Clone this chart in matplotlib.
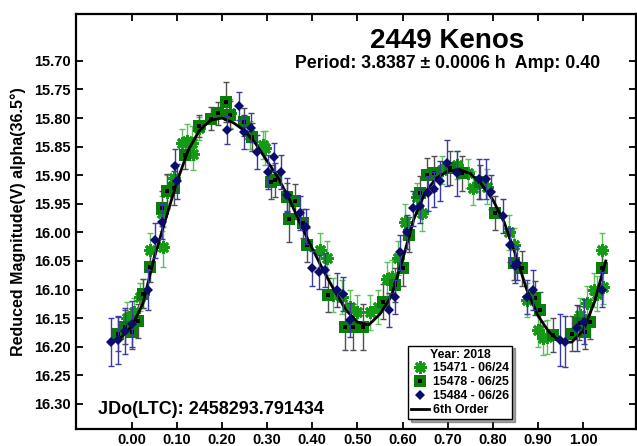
import matplotlib
matplotlib.use("Agg")
import matplotlib.pyplot as plt
from matplotlib.lines import Line2D

plt.rcParams['font.family'] = ['Liberation Sans', 'DejaVu Sans']
plt.rcParams['font.weight'] = 'bold'

# 15471 - 06/24 (green asterisks)
ph1 = [-0.010, 0.005, 0.019, 0.026, 0.041, 0.069, 0.067, 0.078, 0.093, 0.111,
       0.122, 0.133, 0.137, 0.150, 0.218, 0.262, 0.292, 0.296, 0.418, 0.432,
       0.447, 0.466, 0.484, 0.499, 0.528, 0.545, 0.565, 0.576, 0.591, 0.606,
       0.632, 0.643, 0.688, 0.720, 0.746, 0.757, 0.787, 0.835, 0.846, 0.875,
       0.901, 0.912, 0.920, 0.993, 1.008, 1.023, 1.030, 1.041, 1.045]
mag1 = [16.150, 16.140, 16.113, 16.107, 16.031, 16.026, 15.967, 15.929, 15.905, 15.844,
        15.841, 15.844, 15.863, 15.818, 15.792, 15.830, 15.847, 15.852, 16.031, 16.045,
        16.110, 16.113, 16.130, 16.140, 16.140, 16.130, 16.081, 16.078, 16.045, 15.981,
        15.938, 15.967, 15.891, 15.882, 15.897, 15.923, 15.920, 16.000, 16.022, 16.118,
        16.171, 16.185, 16.183, 16.145, 16.124, 16.101, 16.107, 16.031, 16.095]
err1 = [0.028, 0.025, 0.025, 0.025, 0.030, 0.035, 0.030, 0.030, 0.025, 0.025,
        0.030, 0.030, 0.028, 0.020, 0.025, 0.025, 0.025, 0.030, 0.030, 0.030,
        0.030, 0.030, 0.030, 0.030, 0.030, 0.030, 0.030, 0.030, 0.030, 0.030,
        0.025, 0.030, 0.025, 0.025, 0.025, 0.030, 0.030, 0.030, 0.030, 0.030,
        0.030, 0.030, 0.030, 0.030, 0.030, 0.030, 0.030, 0.030, 0.030]

# 15478 - 06/25 (green squares)
ph2 = [-0.029, -0.014, 0.000, 0.015, 0.026, 0.041, 0.067, 0.078, 0.093, 0.118,
       0.150, 0.176, 0.191, 0.209, 0.217, 0.248, 0.266, 0.308, 0.318, 0.345,
       0.348, 0.362, 0.380, 0.388, 0.436, 0.473, 0.491, 0.513, 0.556, 0.584,
       0.601, 0.614, 0.639, 0.654, 0.669, 0.705, 0.731, 0.772, 0.805, 0.846,
       0.864, 0.894, 0.905, 0.934, 0.975, 0.990, 1.004, 1.016, 1.041]
mag2 = [16.178, 16.165, 16.174, 16.155, 16.107, 16.061, 15.958, 15.928, 15.923, 15.865,
        15.814, 15.801, 15.792, 15.772, 15.795, 15.807, 15.833, 15.912, 15.909, 15.938,
        15.976, 15.946, 15.984, 16.022, 16.110, 16.165, 16.165, 16.165, 16.121, 16.092,
        16.063, 16.004, 15.932, 15.900, 15.897, 15.888, 15.897, 15.912, 15.966, 16.054,
        16.063, 16.115, 16.135, 16.180, 16.177, 16.159, 16.174, 16.156, 16.063]
err2 = [0.030, 0.030, 0.030, 0.030, 0.025, 0.025, 0.030, 0.030, 0.030, 0.025,
        0.020, 0.020, 0.020, 0.035, 0.025, 0.025, 0.025, 0.030, 0.030, 0.025,
        0.040, 0.030, 0.025, 0.030, 0.030, 0.040, 0.040, 0.040, 0.030, 0.030,
        0.030, 0.030, 0.030, 0.030, 0.030, 0.030, 0.030, 0.030, 0.030, 0.030,
        0.030, 0.030, 0.030, 0.030, 0.030, 0.030, 0.030, 0.030, 0.030]

# 15484 - 06/26 (navy diamonds)
ph3 = [-0.045, -0.029, -0.014, 0.000, 0.037, 0.052, 0.067, 0.096, 0.100, 0.211,
       0.237, 0.250, 0.264, 0.278, 0.303, 0.316, 0.331, 0.345, 0.372, 0.387,
       0.399, 0.414, 0.429, 0.454, 0.468, 0.484, 0.570, 0.584, 0.595, 0.611,
       0.624, 0.639, 0.657, 0.670, 0.683, 0.698, 0.720, 0.770, 0.784, 0.796,
       0.823, 0.838, 0.849, 0.853, 0.875, 0.888, 0.949, 0.960, 0.986, 1.002, 1.041]
mag3 = [16.192, 16.189, 16.172, 16.160, 16.101, 16.014, 15.981, 15.884, 15.911, 15.821,
        15.779, 15.824, 15.817, 15.859, 15.894, 15.868, 15.894, 15.935, 15.966, 15.990,
        16.063, 16.069, 16.066, 16.101, 16.108, 16.153, 16.136, 16.113, 16.035, 15.999,
        15.958, 15.954, 15.932, 15.925, 15.910, 15.879, 15.897, 15.907, 15.907, 15.929,
        15.971, 16.022, 16.059, 16.054, 16.113, 16.101, 16.188, 16.191, 16.167, 16.156, 16.100]
err3 = [0.042, 0.042, 0.040, 0.040, 0.035, 0.030, 0.030, 0.030, 0.030, 0.025,
        0.025, 0.030, 0.025, 0.030, 0.030, 0.025, 0.030, 0.030, 0.030, 0.030,
        0.030, 0.030, 0.030, 0.030, 0.030, 0.030, 0.030, 0.030, 0.030, 0.030,
        0.030, 0.030, 0.030, 0.030, 0.035, 0.040, 0.040, 0.035, 0.035, 0.030,
        0.030, 0.030, 0.030, 0.030, 0.030, 0.035, 0.045, 0.045, 0.040, 0.040, 0.030]

# 6th order fit
fit_ph = [-0.050, -0.025, 0.000, 0.025, 0.050, 0.075, 0.100, 0.125, 0.150, 0.175,
          0.200, 0.225, 0.250, 0.275, 0.300, 0.325, 0.350, 0.375, 0.400, 0.425,
          0.450, 0.475, 0.500, 0.525, 0.550, 0.575, 0.600, 0.625, 0.650, 0.675,
          0.700, 0.725, 0.750, 0.775, 0.800, 0.825, 0.850, 0.875, 0.900, 0.925,
          0.950, 0.975, 1.000, 1.025, 1.050]
fit_mag = [16.193, 16.185, 16.165, 16.125, 16.045, 15.978, 15.913, 15.857, 15.822, 15.804,
           15.800, 15.808, 15.822, 15.845, 15.875, 15.905, 15.943, 15.987, 16.028, 16.067,
           16.103, 16.136, 16.157, 16.162, 16.143, 16.112, 16.048, 15.977, 15.930, 15.905,
           15.893, 15.890, 15.897, 15.916, 15.943, 15.982, 16.038, 16.100, 16.146, 16.175,
           16.192, 16.192, 16.172, 16.122, 16.050]

xticks = [0.0, 0.1, 0.2, 0.3, 0.4, 0.5, 0.6, 0.7, 0.8, 0.9, 1.0]
yticks = [15.70, 15.75, 15.80, 15.85, 15.90, 15.95, 16.00, 16.05, 16.10, 16.15, 16.20, 16.25, 16.30]

fig = plt.figure(figsize=(6.37, 4.46), dpi=100)
ax = fig.add_axes([76 / 637, 17 / 446, 560 / 637, 415 / 446])

# asterisks
ax.errorbar(ph1, mag1, yerr=err1, fmt='none', ecolor='#5fbf5f', elinewidth=1,
            capsize=2.5, capthick=1, zorder=2)
ax.plot(ph1, mag1, linestyle='none', marker=(8, 2, 0), markersize=9,
        markeredgewidth=2, color='#159a15', zorder=3)

# squares
ax.errorbar(ph2, mag2, yerr=err2, fmt='none', ecolor='#505050', elinewidth=1,
            capsize=2.5, capthick=1, zorder=2)
ax.plot(ph2, mag2, linestyle='none', marker='s', markersize=8,
        color='#0a7d0a', markeredgewidth=0, zorder=3)
ax.plot(ph2, mag2, linestyle='none', marker='s', markersize=3.5,
        color='black', markeredgewidth=0, zorder=3)

# curve
ax.plot(fit_ph, fit_mag, color='black', linewidth=2, zorder=4)

# diamonds
ax.errorbar(ph3, mag3, yerr=err3, fmt='none', ecolor='#3a3aa8', elinewidth=1,
            capsize=2.5, capthick=1, zorder=5)
ax.plot(ph3, mag3, linestyle='none', marker='D', markersize=5,
        color='#0b0b6e', markeredgewidth=0, zorder=6)

ax.set_xlim(-0.123, 1.117)
ax.set_ylim(16.344, 15.618)
ax.set_xticks(xticks)
ax.set_yticks(yticks)
ax.set_xticklabels(['%.2f' % v for v in xticks])
ax.set_yticklabels(['%.2f' % v for v in yticks])
ax.tick_params(direction='in', length=5, width=1.3, top=True, right=True,
               labelsize=10.5, pad=4)
ax.tick_params(axis='x', pad=3)
for lab in ax.get_xticklabels() + ax.get_yticklabels():
    lab.set_fontweight('bold')
for sp in ax.spines.values():
    sp.set_linewidth(1.6)

fig.text(18 / 637, 1 - 222 / 446, 'Reduced Magnitude(V) alpha(36.5°)', rotation=90,
         ha='center', va='center', fontsize=11.5, fontweight='bold')
fig.text(447 / 637, 1 - 41 / 446, '2449 Kenos', ha='center', va='center',
         fontsize=20, fontweight='bold')
fig.text(448 / 637, 1 - 64 / 446, 'Period: 3.8387 ± 0.0006 h  Amp: 0.40',
         ha='center', va='center', fontsize=12.8, fontweight='bold')
fig.text(98 / 637, 1 - 410 / 446, 'JDo(LTC): 2458293.791434', ha='left',
         va='center', fontsize=13, fontweight='bold')

h1 = Line2D([], [], linestyle='none', marker=(8, 2, 0), markersize=9,
            markeredgewidth=2, color='#159a15')
h2a = Line2D([], [], linestyle='none', marker='s', markersize=8, color='#0a7d0a',
             markeredgewidth=0)
h2b = Line2D([], [], linestyle='none', marker='s', markersize=3.5, color='black',
             markeredgewidth=0)
h3 = Line2D([], [], linestyle='none', marker='D', markersize=5, color='#0b0b6e',
            markeredgewidth=0)
h4 = Line2D([], [], color='black', linewidth=2)
leg = ax.legend([h1, (h2a, h2b), h3, h4],
                ['15471 - 06/24', '15478 - 06/25', '15484 - 06/26', '6th Order'],
                title='Year: 2018', loc='lower left', bbox_to_anchor=(0.593, 0.024),
                prop={'size': 8.8, 'weight': 'bold'}, title_fontproperties={'size': 8.8, 'weight': 'bold'},
                frameon=True, fancybox=False, shadow=True, edgecolor='black',
                framealpha=1, handlelength=1.5, handletextpad=0.3, borderpad=0.25,
                labelspacing=0.15, borderaxespad=0)
leg.get_frame().set_linewidth(1)

fig.savefig('out.png', dpi=100)
